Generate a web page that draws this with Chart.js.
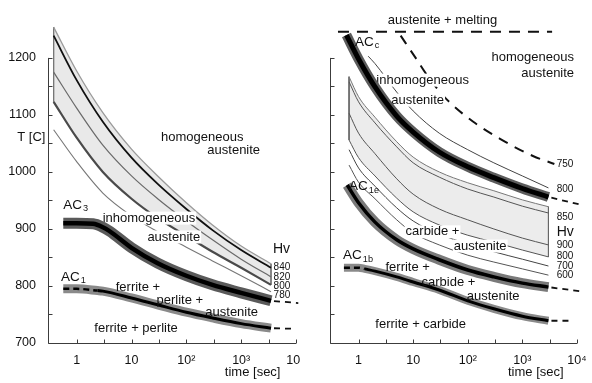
<!DOCTYPE html>
<html><head><meta charset="utf-8">
<script src="https://cdn.jsdelivr.net/npm/chart.js@4.4.1/dist/chart.umd.min.js"></script>
<style>
html,body{margin:0;padding:0;background:#fff;}
#wrap{position:relative;width:592px;height:383px;overflow:hidden;background:#fff;}
#cL{position:absolute;left:0;top:0;}
#cR{position:absolute;left:300px;top:0;}
</style></head><body>
<div id="wrap"><canvas id="cL" width="300" height="383"></canvas><canvas id="cR" width="292" height="383"></canvas></div>
<script>
// ---------- tick values / labels ----------
const timeTickValues = [1, 10, 100, 1000, 10000];
const timeTickLabels = ['1', '10', '10²', '10³', '10⁴'];
const timeMarkValues = [1, 3.16, 10, 31.6, 100, 316, 1000, 3162, 10000];
const tempTickValues = [700, 800, 900, 1000, 1100, 1200];
const tempTickLabels = ['700', '800', '900', '1000', '1100', '1200'];
const tempMarkValues = [700, 750, 800, 850, 900, 950, 1000, 1050, 1100, 1150, 1200];

// ---------- left panel data (time [s], temperature [C]) ----------
const leftBandTime = [0.38, 1, 3, 10, 30, 100, 300, 1000, 3500];
const leftBandTop  = [1254, 1177, 1104, 1040, 993, 946, 907, 870, 839];
const leftHv840    = [1239, 1161, 1088, 1025, 979, 935, 898, 863, 832];
const leftHv820    = [1175, 1112, 1047, 993, 953, 914, 881, 847, 816];
const leftHv800    = [1123, 1060, 1000, 953, 919, 888, 860, 832, 802];
const leftHv780    = [1074, 1018, 963, 923, 895, 868, 844, 818, 790];
const ac3Time = [0.57, 1, 2, 3, 4, 10, 30, 100, 300, 1000, 3500];
const ac3Temp = [910, 910, 909, 903, 896, 867, 840, 818, 802, 788, 774];
const ac3TailTime = [3500, 11000];
const ac3TailTemp = [774, 770];
const ac1Time = [0.57, 1, 2.4, 3, 10, 30, 100, 300, 1000, 3500];
const ac1Temp = [795, 795, 792, 791, 779, 767, 754, 744, 734, 726];
const ac1TailTime = [3500, 8700];
const ac1TailTemp = [726, 725];

// ---------- right panel data ----------
const meltTime = [0.42, 3500];
const meltTemp = [1246, 1246];
const hv750Time = [5.9, 11.1, 20.8, 42.4, 126, 390, 1560, 3850];
const hv750Temp = [1239, 1200, 1161, 1126, 1088, 1058, 1028, 1014];
const accTime = [0.6, 1, 2, 5, 10, 30, 100, 300, 1000, 3000];
const accTemp = [1240, 1198, 1149, 1098, 1070, 1035, 1009, 990, 971, 956];
const accTailTime = [3000, 11100];
const accTailTemp = [956, 943];
const rHv800Time = [1.5, 2, 5, 10, 30, 100, 300, 1000, 3000];
const rHv800Temp = [1203, 1190, 1140, 1107, 1068, 1039, 1016, 993, 972];
const rightBandTime   = [0.67, 1, 2, 5, 10, 30, 100, 300, 1000, 3000];
const rightBandTop    = [1167, 1132, 1096, 1053, 1026, 1000, 981, 967, 951, 939];
const rightHv850      = [1158, 1123, 1086, 1044, 1016, 991, 970, 956, 940, 928];
const rightHv900      = [1103, 1068, 1032, 988, 961, 935, 916, 900, 884, 872];
const rightBandBottom = [1056, 1025, 993, 954, 930, 907, 889, 877, 863, 851];
const rightHv700      = [1039, 1007, 975, 937, 914, 891, 874, 860, 847, 835];
const rightHv600      = [1012, 982, 953, 916, 893, 872, 854, 842, 830, 819];
const ac1eTime = [0.62, 1, 2, 5, 10, 30, 100, 300, 1000, 3000];
const ac1eTemp = [977, 946, 912, 881, 865, 846, 828, 816, 805, 798];
const ac1eTailTime = [3000, 11100];
const ac1eTailTemp = [798, 791];
const ac1bTime = [0.54, 1, 1.3, 2, 5, 10, 30, 100, 300, 1000, 3000];
const ac1bTemp = [832, 832, 830, 826, 816, 807, 793, 774, 760, 747, 739];
const ac1bTailTime = [3000, 7950];
const ac1bTailTemp = [739, 739];

// ---------- annotations (anchored in data coordinates) ----------
const leftAnnotations = [
  {text: 'homogeneous', t: 195, T: 1061},
  {text: 'austenite', t: 731, T: 1037},
  {text: 'AC', sub: '3', t: 0.57, T: 942, align: 'left', size: 13.5},
  {text: 'inhomogeneous', t: 20.8, T: 919, bg: true},
  {text: 'austenite', t: 59, T: 886, bg: true},
  {text: 'Hv', t: 5450, T: 865, size: 14},
  {text: '840', t: 3900, T: 833, align: 'left', size: 10},
  {text: '820', t: 3900, T: 816, align: 'left', size: 10},
  {text: '800', t: 3900, T: 800, align: 'left', size: 10},
  {text: '780', t: 3900, T: 784, align: 'left', size: 10},
  {text: 'AC', sub: '1', t: 0.52, T: 816, align: 'left', size: 13.5},
  {text: 'ferrite +', t: 13.1, T: 798},
  {text: 'perlite +', t: 76, T: 774},
  {text: 'austenite', t: 672, T: 753},
  {text: 'ferrite + perlite', t: 12.1, T: 726},
  {text: 'T [C]', t: 0.149, T: 1061},
  {text: 'time [sec]', t: 1620, T: 649}
];
const rightAnnotations = [
  {text: 'austenite + melting', t: 34.4, T: 1265},
  {text: 'AC', sub: 'c', t: 0.86, T: 1228, align: 'left', size: 13.5},
  {text: 'homogeneous', t: 1550, T: 1200},
  {text: 'austenite', t: 2910, T: 1172},
  {text: 'inhomogeneous', t: 14.9, T: 1161, bg: true},
  {text: 'austenite', t: 12.1, T: 1126, bg: true},
  {text: '750', t: 4240, T: 1014, align: 'left', size: 10},
  {text: '800', t: 4240, T: 970, align: 'left', size: 10},
  {text: '850', t: 4240, T: 921, align: 'left', size: 10},
  {text: 'Hv', t: 4240, T: 895, align: 'left', size: 14},
  {text: '900', t: 4240, T: 872, align: 'left', size: 10},
  {text: '800', t: 4240, T: 853, align: 'left', size: 10},
  {text: '700', t: 4240, T: 835, align: 'left', size: 10},
  {text: '600', t: 4240, T: 819, align: 'left', size: 10},
  {text: 'AC', sub: '1e', t: 0.67, T: 975, align: 'left', size: 13.5},
  {text: 'carbide +', t: 22.6, T: 895, bg: true},
  {text: 'austenite', t: 169, T: 870, bg: true},
  {text: 'AC', sub: '1b', t: 0.52, T: 853, align: 'left', size: 13.5},
  {text: 'ferrite +', t: 7.94, T: 832},
  {text: 'carbide +', t: 44.2, T: 807},
  {text: 'austenite', t: 291, T: 782.5},
  {text: 'ferrite + carbide', t: 13.7, T: 732},
  {text: 'time [sec]', t: 1760, T: 649}
];

// ---------- helpers ----------
const FONT = '"Liberation Sans", Arial, Helvetica, sans-serif';
Chart.defaults.font.family = FONT;

function series(ts, vs) { return ts.map((t, i) => ({x: t, y: vs[i]})); }
function part(ts, vs, a, b) { return series(ts.slice(a, b), vs.slice(a, b)); }
function edge(t, v1, v2) { return [{x: t, y: v1}, {x: t, y: v2}]; }
function ds(data, color, width, extra) {
  return Object.assign({data, borderColor: color, borderWidth: width, pointRadius: 0,
    fill: false, cubicInterpolationMode: 'monotone', clip: false,
    borderCapStyle: 'butt', borderJoinStyle: 'round'}, extra || {});
}

function drawLabel(ctx, xs, ys, L) {
  const px = xs.getPixelForValue(L.t), py = ys.getPixelForValue(L.T);
  const size = L.size || 13;
  ctx.font = size + 'px ' + FONT;
  ctx.textBaseline = 'middle';
  ctx.textAlign = 'left';
  const w = ctx.measureText(L.text).width;
  let subW = 0;
  if (L.sub) {
    ctx.font = (size * 0.68) + 'px ' + FONT;
    subW = ctx.measureText(L.sub).width + 1;
    ctx.font = size + 'px ' + FONT;
  }
  const x0 = L.align === 'left' ? px : px - (w + subW) / 2;
  if (L.bg) {
    ctx.fillStyle = '#fff';
    ctx.fillRect(x0 - 1, py - size * 0.5, w + subW + 2, size * 1.0);
  }
  ctx.fillStyle = '#111';
  ctx.fillText(L.text, x0, py);
  if (L.sub) {
    ctx.font = (size * 0.68) + 'px ' + FONT;
    ctx.fillText(L.sub, x0 + w + 1, py + size * 0.28);
  }
}

// thick AC lines occupy indices 0..thickCount-1 (drawn last); masked labels go beneath them
function makeDecor(labels, thickCount) {
  return {
    id: 'decor',
    beforeDatasetDraw(chart, args) {
      if (args.index !== thickCount - 1) return;
      const ctx = chart.ctx, xs = chart.scales.x, ys = chart.scales.y;
      ctx.save();
      for (const L of labels) if (L.bg) drawLabel(ctx, xs, ys, L);
      ctx.restore();
    },
    afterDatasetsDraw(chart) {
      const ctx = chart.ctx, xs = chart.scales.x, ys = chart.scales.y, ca = chart.chartArea;
      ctx.save();
      ctx.strokeStyle = '#3c3c3c';
      ctx.lineWidth = 1;
      const yTop = ys.getPixelForValue(1200), yBot = ys.getPixelForValue(700);
      const xl = Math.round(ca.left) + 0.5, yb = Math.round(yBot) + 0.5;
      ctx.beginPath(); ctx.moveTo(xl, yTop); ctx.lineTo(xl, yb); ctx.stroke();
      ctx.beginPath(); ctx.moveTo(xl, yb); ctx.lineTo(ca.right, yb); ctx.stroke();
      for (const v of tempMarkValues) {
        const y = Math.round(ys.getPixelForValue(v)) + 0.5;
        ctx.beginPath(); ctx.moveTo(xl, y); ctx.lineTo(xl + 4, y); ctx.stroke();
      }
      for (const v of timeMarkValues) {
        const x = Math.round(xs.getPixelForValue(v)) + 0.5;
        ctx.beginPath(); ctx.moveTo(x, yb); ctx.lineTo(x, yb - 4); ctx.stroke();
      }
      for (const L of labels) if (!L.bg) drawLabel(ctx, xs, ys, L);
      ctx.restore();
    }
  };
}

function scalesFor(showYLabels, yWidth) {
  return {
    x: {
      type: 'logarithmic', min: 0.3162, max: 10000,
      grid: {display: false}, border: {display: false},
      afterBuildTicks: (s) => { s.ticks = timeTickValues.map(v => ({value: v})); },
      afterFit: (s) => { s.height = 40; s.paddingLeft = 0; s.paddingRight = 0; },
      ticks: {
        autoSkip: false, maxRotation: 0, minRotation: 0, padding: 2, color: '#111',
        font: {size: 12.5, family: FONT},
        callback: (v) => { const i = timeTickValues.indexOf(v); return i >= 0 ? timeTickLabels[i] : ''; }
      }
    },
    y: {
      type: 'linear', min: 700, max: 1270,
      grid: {display: false}, border: {display: false},
      afterFit: (s) => { s.width = yWidth; s.paddingTop = 0; s.paddingBottom = 0; },
      ticks: {
        display: showYLabels, autoSkip: false, stepSize: 50, padding: 4, color: '#111',
        font: {size: 12.5, family: FONT},
        callback: (v) => { const i = tempTickValues.indexOf(v); return i >= 0 ? tempTickLabels[i] : ''; }
      }
    }
  };
}

const baseOptions = (padRight, showY, yWidth) => ({
  responsive: false, animation: false, devicePixelRatio: 1,
  layout: {padding: {top: 18, right: padRight, bottom: 0, left: 0}},
  plugins: {legend: {display: false}, tooltip: {enabled: false}, filler: {drawTime: 'beforeDatasetsDraw'}},
  scales: scalesFor(showY, yWidth)
});

const noCurve = {cubicInterpolationMode: 'default', tension: 0};
const tailStyle = {borderDash: [6, 5], borderDashOffset: -3};

// ---------- left chart ----------
(function () {
  const list = [];
  // thick AC lines (on top)
  list.push(ds(series(ac3Time, ac3Temp), '#000', 4.5));
  list.push(ds(series(ac3Time, ac3Temp), '#5a5a5a', 11));
  list.push(ds(part(ac1Time, ac1Temp, 2, ac1Time.length), '#000', 3));
  list.push(ds(part(ac1Time, ac1Temp, 0, 3), '#000', 2.5, {borderDash: [6, 4]}));
  list.push(ds(series(ac1Time, ac1Temp), '#8a8a8a', 9));
  const thickCount = list.length;
  // thin lines
  list.push(ds(series(ac3TailTime, ac3TailTemp), '#111', 1.8, tailStyle));
  list.push(ds(series(ac1TailTime, ac1TailTemp), '#111', 1.8, tailStyle));
  const topIdx = list.length;
  list.push(ds(series(leftBandTime, leftBandTop), '#9a9a9a', 1.3, {backgroundColor: '#e9e9e9'}));
  list.push(ds(series(leftBandTime, leftHv840), '#111', 1.8));
  list.push(ds(series(leftBandTime, leftHv820), '#6a6a6a', 1.2));
  const botIdx = list.length;
  list.push(ds(series(leftBandTime, leftHv800), '#4a4a4a', 2.2));
  list.push(ds(series(leftBandTime, leftHv780), '#777', 1.1));
  const n = leftBandTime.length - 1;
  list.push(ds(edge(leftBandTime[0], leftBandTop[0], leftHv800[0]), '#777', 1, noCurve));
  list.push(ds(edge(leftBandTime[n], leftBandTop[n], leftHv800[n]), '#777', 1, noCurve));
  list[topIdx].fill = botIdx;
  new Chart(document.getElementById('cL'), {
    type: 'line', data: {datasets: list},
    options: baseOptions(4, true, 48),
    plugins: [makeDecor(leftAnnotations, thickCount)]
  });
})();

// ---------- right chart ----------
(function () {
  const list = [];
  // thick AC lines (on top)
  list.push(ds(series(accTime, accTemp), '#000', 5));
  list.push(ds(series(accTime, accTemp), '#5c5c5c', 10));
  list.push(ds(series(ac1eTime, ac1eTemp), '#000', 3.5));
  list.push(ds(series(ac1eTime, ac1eTemp), '#7a7a7a', 10));
  list.push(ds(part(ac1bTime, ac1bTemp, 2, ac1bTime.length), '#000', 3));
  list.push(ds(part(ac1bTime, ac1bTemp, 0, 3), '#000', 2.5, {borderDash: [6, 4]}));
  list.push(ds(series(ac1bTime, ac1bTemp), '#8a8a8a', 8));
  const thickCount = list.length;
  // thin / dashed lines
  list.push(ds(series(accTailTime, accTailTemp), '#111', 1.8, tailStyle));
  list.push(ds(series(ac1eTailTime, ac1eTailTemp), '#111', 1.8, tailStyle));
  list.push(ds(series(ac1bTailTime, ac1bTailTemp), '#111', 1.8, tailStyle));
  list.push(ds(series(meltTime, meltTemp), '#111', 2, Object.assign({borderDash: [11, 8]}, noCurve)));
  list.push(ds(series(hv750Time, hv750Temp), '#111', 2, {borderDash: [10, 8]}));
  list.push(ds(series(rHv800Time, rHv800Temp), '#444', 1));
  const topIdx = list.length;
  list.push(ds(series(rightBandTime, rightBandTop), '#777', 1, {backgroundColor: '#ececec'}));
  list.push(ds(series(rightBandTime, rightHv850), '#555', 1));
  list.push(ds(series(rightBandTime, rightHv900), '#555', 1));
  const botIdx = list.length;
  list.push(ds(series(rightBandTime, rightBandBottom), '#555', 1));
  list.push(ds(series(rightBandTime, rightHv700), '#444', 1));
  list.push(ds(series(rightBandTime, rightHv600), '#555', 1));
  const n = rightBandTime.length - 1;
  list.push(ds(edge(rightBandTime[0], rightBandTop[0], rightBandBottom[0]), '#666', 1, noCurve));
  list.push(ds(edge(rightBandTime[n], rightBandTop[n], rightBandBottom[n]), '#666', 1, noCurve));
  list[topIdx].fill = botIdx;
  new Chart(document.getElementById('cR'), {
    type: 'line', data: {datasets: list},
    options: baseOptions(15, false, 30),
    plugins: [makeDecor(rightAnnotations, thickCount)]
  });
})();
</script>
</body></html>
